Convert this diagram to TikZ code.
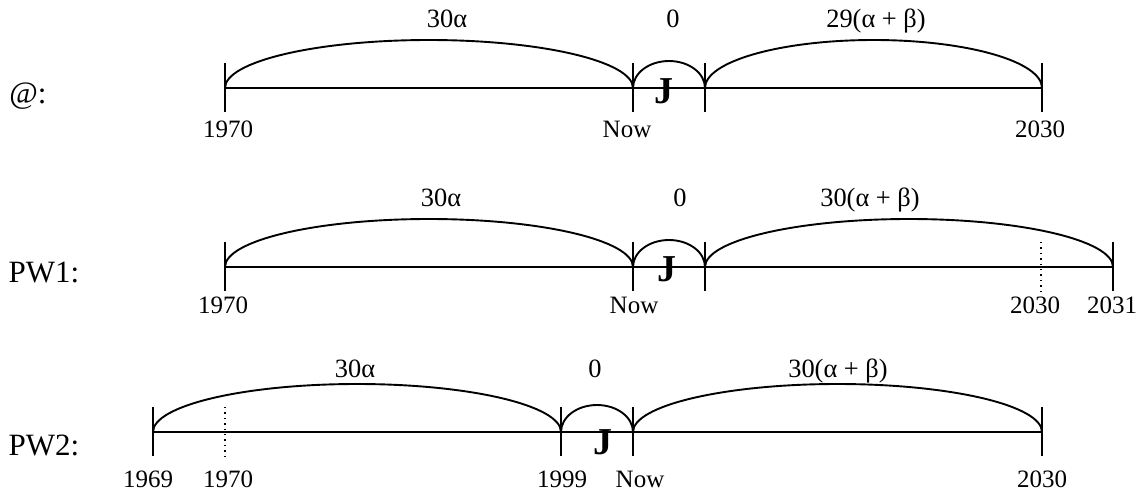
\documentclass[tikz,border=0pt]{standalone}
\usepackage{fontspec}
\setmainfont{Liberation Serif}
\begin{document}
\begin{tikzpicture}[x=0.5pt,y=-0.5pt,
  line/.style={line width=0.95pt},
  dtick/.style={line width=0.7pt, dotted},
  yr/.style={font=\fontsize{12.5}{15}\selectfont, inner sep=0pt, anchor=base},
  toplab/.style={font=\fontsize{13.2}{15}\selectfont, inner sep=0pt, anchor=base},
  rowlab/.style={font=\fontsize{15.5}{18}\selectfont, inner sep=0pt, anchor=base},
  jl/.style={font=\fontsize{19}{22}\selectfont\bfseries, inner sep=0pt}]
\useasboundingbox (0,0) rectangle (1146,493);

% ---------- Row 1 ----------
\coordinate (a1) at (225,88);
\coordinate (n1) at (633,88);
\coordinate (j1) at (705,88);
\coordinate (e1) at (1042,88);
\node[rowlab] (r1) at (28,103) {@:};
\draw[line] (a1) -- (e1);
\foreach \p in {a1,n1,j1,e1}
  \draw[line] ([yshift=12.5pt]\p) -- ([yshift=-12pt]\p);
\draw[line] (a1) arc[start angle=180,end angle=360,x radius=204,y radius=48];
\draw[line] (n1) arc[start angle=180,end angle=360,x radius=36,y radius=27];
\draw[line] (j1) arc[start angle=180,end angle=360,x radius=168.5,y radius=48];
\node[toplab] (t11) at (447,27) {30α};
\node[toplab] (t12) at (673,27) {0};
\node[toplab] (t13) at (876,27) {29(α + β)};
\node[jl] (J1) at (664,91) {J};
\node[yr] (y11) at (228,137) {1970};
\node[yr] (y12) at (627,137) {Now};
\node[yr] (y13) at (1040,137) {2030};

% ---------- Row 2 ----------
\coordinate (a2) at (225,267);
\coordinate (n2) at (633,267);
\coordinate (j2) at (705,267);
\coordinate (d2) at (1041,267);
\coordinate (e2) at (1113,267);
\node[rowlab] (r2) at (44,282) {PW1:};
\draw[line] (a2) -- (e2);
\foreach \p in {a2,n2,j2,e2}
  \draw[line] ([yshift=12.5pt]\p) -- ([yshift=-12pt]\p);
\draw[dtick] ([yshift=12.5pt]d2) -- ([yshift=-12pt]d2);
\draw[line] (a2) arc[start angle=180,end angle=360,x radius=204,y radius=48];
\draw[line] (n2) arc[start angle=180,end angle=360,x radius=36,y radius=27];
\draw[line] (j2) arc[start angle=180,end angle=360,x radius=204,y radius=48];
\node[toplab] (t21) at (441,206) {30α};
\node[toplab] (t22) at (680,206) {0};
\node[toplab] (t23) at (870,206) {30(α + β)};
\node[jl] (J2) at (667,269) {J};
\node[yr] (y21) at (223,313) {1970};
\node[yr] (y22) at (634,313) {Now};
\node[yr] (y23) at (1035,313) {2030};
\node[yr] (y24) at (1112,313) {2031};

% ---------- Row 3 ----------
\coordinate (a3) at (153,432);
\coordinate (d3) at (225,432);
\coordinate (n3) at (561,432);
\coordinate (j3) at (633,432);
\coordinate (e3) at (1042,432);
\node[rowlab] (r3) at (44,455) {PW2:};
\draw[line] (a3) -- (e3);
\foreach \p in {a3,n3,j3,e3}
  \draw[line] ([yshift=12.5pt]\p) -- ([yshift=-12pt]\p);
\draw[dtick] ([yshift=12.5pt]d3) -- ([yshift=-12pt]d3);
\draw[line] (a3) arc[start angle=180,end angle=360,x radius=204,y radius=48];
\draw[line] (n3) arc[start angle=180,end angle=360,x radius=36,y radius=27];
\draw[line] (j3) arc[start angle=180,end angle=360,x radius=204.5,y radius=48];
\node[toplab] (t31) at (355,377) {30α};
\node[toplab] (t32) at (595,377) {0};
\node[toplab] (t33) at (838,377) {30(α + β)};
\node[jl] (J3) at (603,442) {J};
\node[yr] (y31) at (148,487) {1969};
\node[yr] (y32) at (228,487) {1970};
\node[yr] (y33) at (562,487) {1999};
\node[yr] (y34) at (640,487) {Now};
\node[yr] (y35) at (1042,487) {2030};
\end{tikzpicture}
\end{document}
